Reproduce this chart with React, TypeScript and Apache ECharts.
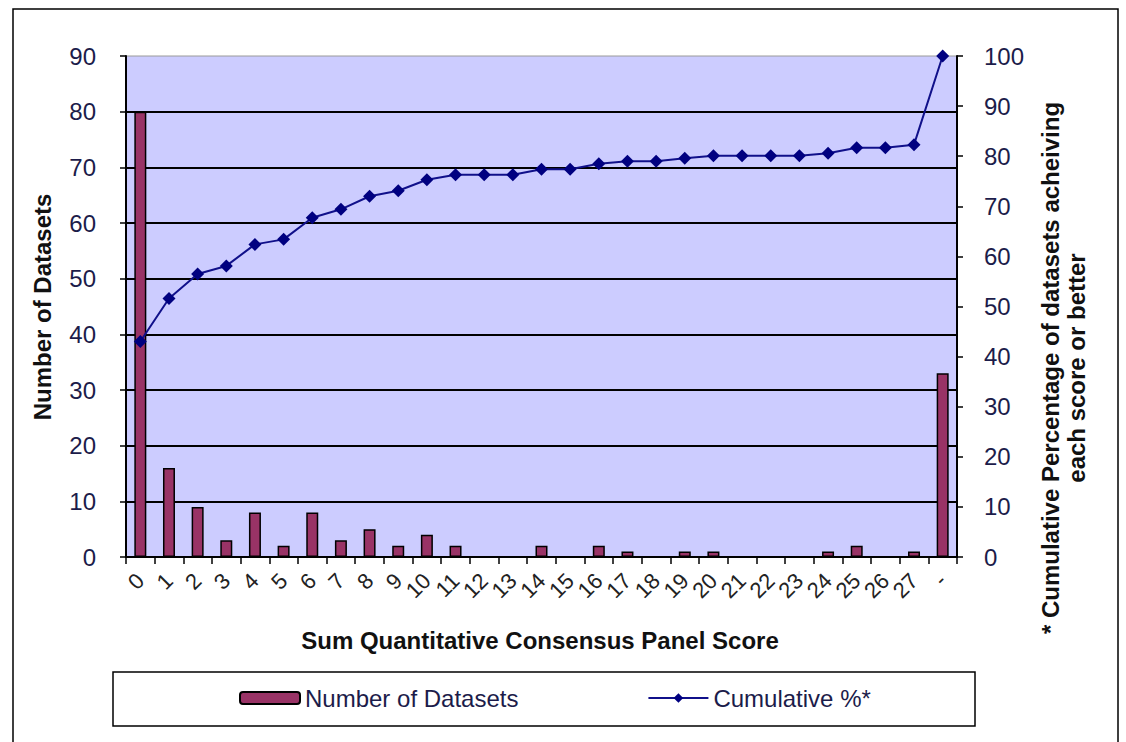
import React, { useEffect, useRef } from "react";
import * as echarts from "echarts";

const categories = ["0","1","2","3","4","5","6","7","8","9","10","11","12","13","14","15","16","17","18","19","20","21","22","23","24","25","26","27","-"];
const datasetCounts = [80,16,9,3,8,2,8,3,5,2,4,2,0,0,2,0,2,1,0,1,1,0,0,0,1,2,0,1,33];
const cumulativePct = [43.0,51.6,56.5,58.1,62.4,63.4,67.7,69.4,72.0,73.1,75.3,76.3,76.3,76.3,77.4,77.4,78.5,79.0,79.0,79.6,80.1,80.1,80.1,80.1,80.6,81.7,81.7,82.3,100];

const FONT = "'Liberation Sans', Arial, sans-serif";
const LABEL_COLOR = "#1c1c4a";

export default function App() {
  const ref = useRef<HTMLDivElement>(null);
  useEffect(() => {
    if (!ref.current) return;
    const chart = echarts.init(ref.current, null, { renderer: "svg" });
    chart.setOption({
      animation: false,
      backgroundColor: "#ffffff",
      textStyle: { fontFamily: FONT },
      grid: {
        left: 126,
        right: 1126 - 957,
        top: 56,
        bottom: 742 - 557,
        show: true,
        backgroundColor: "#ccccff",
        borderColor: "#9a9a9a",
        borderWidth: 1,
      },
      legend: {
        left: 239,
        top: 686,
        padding: 0,
        itemWidth: 60,
        itemHeight: 12,
        itemGap: 129,
        textStyle: { fontSize: 24, color: LABEL_COLOR, fontFamily: FONT },
        data: ["Number of Datasets", "Cumulative %*"],
      },
      xAxis: {
        type: "category",
        data: categories,
        boundaryGap: true,
        axisLine: { show: true, lineStyle: { color: "#000", width: 2 } },
        axisTick: { show: true, length: 7, lineStyle: { color: "#000", width: 1.5 } },
        axisLabel: {
          rotate: 45,
          interval: 0,
          fontSize: 22,
          margin: 20,
          color: "#222",
          fontFamily: FONT,
        },
      },
      yAxis: [
        {
          type: "value",
          min: 0,
          max: 90,
          interval: 10,
          position: "left",
          axisLine: { show: true, lineStyle: { color: "#000", width: 2 } },
          axisTick: { show: true, length: 6, lineStyle: { color: "#000", width: 1.5 } },
          axisLabel: { fontSize: 24, color: LABEL_COLOR, margin: 30, fontFamily: FONT },
          splitLine: { show: true, showMaxLine: false, showMinLine: false, lineStyle: { color: "#000", width: 2 } },
        },
        {
          type: "value",
          min: 0,
          max: 100,
          interval: 10,
          position: "right",
          axisLine: { show: true, lineStyle: { color: "#000", width: 2 } },
          axisTick: { show: true, length: 6, lineStyle: { color: "#000", width: 1.5 } },
          axisLabel: { fontSize: 24, color: LABEL_COLOR, margin: 27, fontFamily: FONT },
          splitLine: { show: false },
        },
      ],
      series: [
        {
          name: "Number of Datasets",
          type: "bar",
          data: datasetCounts,
          barWidth: 12,
          itemStyle: { color: "#993366", borderColor: "#000", borderWidth: 1.5 },
        },
        {
          name: "Cumulative %*",
          type: "line",
          yAxisIndex: 1,
          data: cumulativePct,
          symbol: "diamond",
          symbolSize: 13,
          lineStyle: { color: "#10108a", width: 2 },
          itemStyle: { color: "#000080" },
        },
      ],
      graphic: [
        {
          type: "rect",
          shape: { x: 13, y: 9, width: 1105, height: 760 },
          style: { fill: "none", stroke: "#000", lineWidth: 1.5 },
          silent: true,
          z: 100,
        },
        {
          type: "rect",
          shape: { x: 113, y: 672, width: 862, height: 54 },
          style: { fill: "none", stroke: "#000", lineWidth: 1.5 },
          silent: true,
          z: 100,
        },
        {
          type: "text",
          x: 42,
          y: 307,
          rotation: Math.PI / 2,
          style: {
            text: "Number of Datasets",
            fontSize: 24,
            fontWeight: "bold",
            fontFamily: FONT,
            fill: "#111",
            align: "center",
            verticalAlign: "middle",
          },
          z: 100,
        },
        {
          type: "text",
          x: 540,
          y: 640,
          style: {
            text: "Sum Quantitative Consensus Panel Score",
            fontSize: 24,
            fontWeight: "bold",
            fontFamily: FONT,
            fill: "#111",
            align: "center",
            verticalAlign: "middle",
          },
          z: 100,
        },
        {
          type: "text",
          x: 1063,
          y: 368,
          rotation: Math.PI / 2,
          style: {
            text: "* Cumulative Percentage of datasets acheiving\neach score or better",
            fontSize: 24,
            lineHeight: 26,
            fontWeight: "bold",
            fontFamily: FONT,
            fill: "#111",
            align: "center",
            verticalAlign: "middle",
          },
          z: 100,
        },
      ],
    });
    return () => chart.dispose();
  }, []);
  return (
    <div
      ref={ref}
      style={{ position: "fixed", left: 0, top: 0, width: 1126, height: 742, background: "#fff" }}
    />
  );
}
